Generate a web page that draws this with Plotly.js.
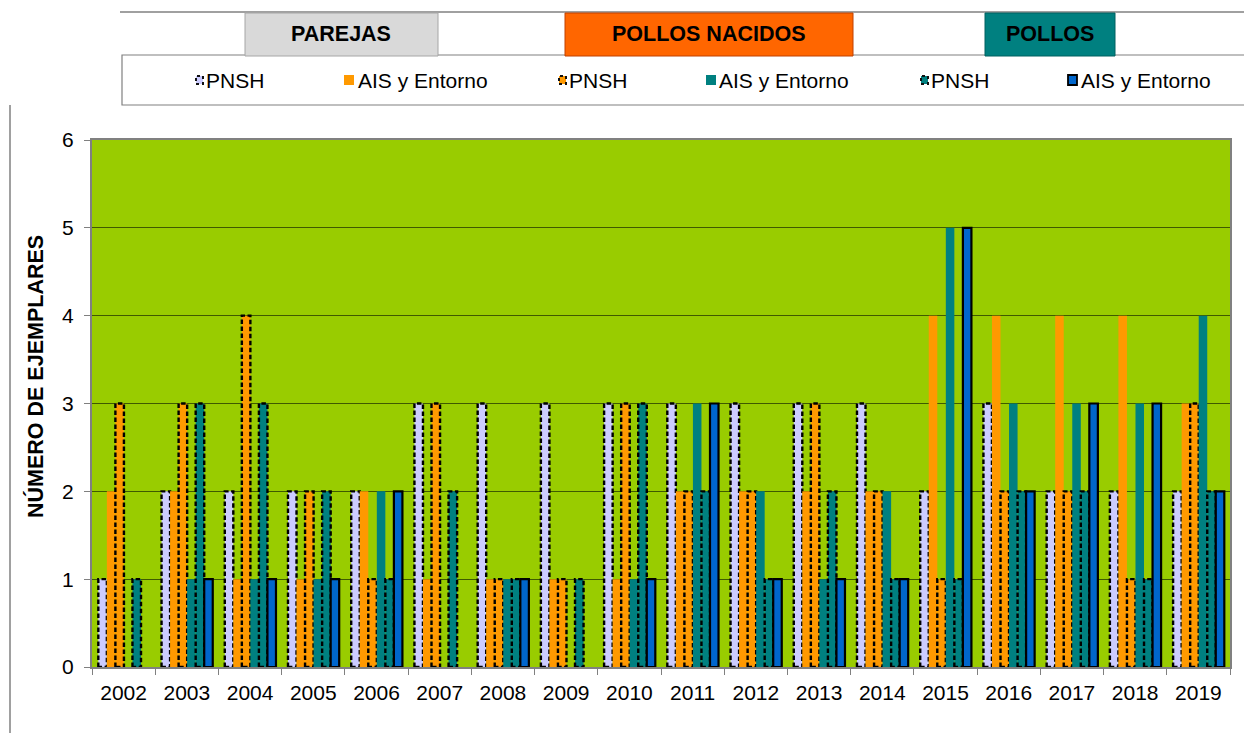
<!DOCTYPE html>
<html><head><meta charset="utf-8">
<script src="https://cdn.plot.ly/plotly-3.0.1.min.js"></script>
<style>html,body{margin:0;padding:0;background:#fff;overflow:hidden;} #chart{width:1244px;height:733px;}</style>
</head><body><div id="chart"></div>
<script>
const years = ['2002','2003','2004','2005','2006','2007','2008','2009','2010','2011','2012','2013','2014','2015','2016','2017','2018','2019'];
const parejasPNSH  = [1,2,2,2,2,3,3,3,3,3,3,3,3,2,3,2,2,2];
const parejasAIS   = [2,2,1,1,2,1,1,1,1,2,2,2,2,4,4,4,4,3];
const nacidosPNSH  = [3,3,4,2,1,3,1,1,3,2,2,3,2,1,2,2,1,3];
const nacidosAIS   = [0,1,1,1,2,0,1,0,1,3,2,1,2,5,3,3,3,4];
const pollosPNSH   = [1,3,3,2,1,2,1,1,3,2,1,2,1,1,2,2,1,2];
const pollosAIS    = [0,1,1,1,2,0,1,0,1,3,1,1,1,5,2,3,3,2];
const yTicks = [0,1,2,3,4,5,6];
const groupLabels = ['PAREJAS','POLLOS NACIDOS','POLLOS'];
const seriesNames = ['PNSH','AIS y Entorno','PNSH','AIS y Entorno','PNSH','AIS y Entorno'];
const yTitle = 'NÚMERO DE EJEMPLARES';

const C = {lav:'#ccccff', orange:'#ff9900', teal:'#008080', blue:'#0066cc'};
const FONT = 'Liberation Sans, Arial, sans-serif';
const FS = 21, FSB = 21.5;

// plot area in pixels
const L = 92, R = 1230, T = 140, B = 667;
const px = x => (x - L) / (R - L);
const py = y => (B - y) / (B - T);

const W = 0.135;
function tr(y, color, lineW, off, name) {
  return {type:'bar', x: years, y: y.map(v => v === 0 ? null : v), name: name, width: W, offset: off,
    marker:{color: color, line:{color:'#000', width: lineW}}, showlegend:false, hoverinfo:'none'};
}
const data = [
  tr(parejasPNSH, C.lav, 2.4, -0.40, seriesNames[0]),
  tr(parejasAIS, C.orange, 0, -0.265, seriesNames[1]),
  tr(nacidosPNSH, C.orange, 2.4, -0.13, seriesNames[2]),
  tr(nacidosAIS, C.teal, 0, 0.005, seriesNames[3]),
  tr(pollosPNSH, C.teal, 2.4, 0.14, seriesNames[4]),
  tr(pollosAIS, C.blue, 2.2, 0.275, seriesNames[5])
];

const shapes = [];
const annotations = [];
function rectPx(x0,y0,x1,y1,fill,line,lw,dash){
  shapes.push({type:'rect', xref:'paper', yref:'paper', x0:px(x0), x1:px(x1), y0:py(y1), y1:py(y0),
    fillcolor:fill, line:{color:line, width:lw, dash:dash||'solid'}, layer:'above'});
}
function linePx(x0,y0,x1,y1,color,lw){
  shapes.push({type:'line', xref:'paper', yref:'paper', x0:px(x0), x1:px(x1), y0:py(y0), y1:py(y1),
    line:{color:color, width:lw}, layer:'above'});
}
function textPx(x,y,text,size,anchor,bold){
  annotations.push({xref:'paper', yref:'paper', x:px(x), y:py(y), text: bold?('<b>'+text+'</b>'):text,
    showarrow:false, xanchor:anchor, yanchor:'middle', font:{family:FONT, size:size, color:'#000'}});
}

// outer frame pieces
linePx(120,12,1250,12,'#808080',1.5);
linePx(10,105,10,740,'#808080',1.5);
// legend box
rectPx(122,55,1260,105,'#ffffff','#808080',1.2);
// group headers
rectPx(245,13,438,56,'#d9d9d9','#a6a6a6',1);
rectPx(565,13,853,56,'#ff6600','#c04000',1);
rectPx(985,13,1115,56,'#008080','#006060',1);
textPx(341,34,groupLabels[0],FSB,'center',true);
textPx(709,34,groupLabels[1],FSB,'center',true);
textPx(1050,34,groupLabels[2],FSB,'center',true);

// legend entries
const legendItems = [
  {mx:196, color:C.lav, border:'dash', text:204},
  {mx:344, color:C.orange, border:null, text:356},
  {mx:559, color:C.orange, border:'dash', text:567},
  {mx:706, color:C.teal, border:null, text:717},
  {mx:921, color:C.teal, border:'dash', text:929},
  {mx:1068, color:C.blue, border:'solid', text:1079}
];
legendItems.forEach((it,i)=>{
  if (it.border === 'dash') rectPx(it.mx, 76, it.mx+7, 84, it.color, '#111', 2, 'dot');
  else if (it.border === 'solid') rectPx(it.mx, 75, it.mx+9, 85, it.color, '#000', 1.8);
  else rectPx(it.mx, 75, it.mx+10, 85, it.color, it.color, 0);
  textPx(it.text, 80, seriesNames[i], FS, 'left', false);
});

// y axis title
annotations.push({xref:'paper', yref:'paper', x:px(35), y:py(377), text:'<b>'+yTitle+'</b>', textangle:-90,
  showarrow:false, xanchor:'center', yanchor:'middle', font:{family:FONT, size:FSB, color:'#000'}});

const layout = {
  width:1244, height:733,
  margin:{l:L, r:1244-R, t:T, b:733-B, pad:0},
  paper_bgcolor:'#ffffff', plot_bgcolor:'#99cc00',
  barmode:'overlay',
  font:{family:FONT, size:FS, color:'#000'},
  xaxis:{type:'category', range:[-0.5,17.5], showgrid:false, zeroline:false,
    ticks:'outside', tickson:'boundaries', ticklen:6, tickcolor:'#808080', tickwidth:1,
    ticklabelstandoff:6,
    showline:true, linecolor:'#808080', linewidth:2, mirror:true,
    tickfont:{family:FONT, size:FS, color:'#000'}, fixedrange:true},
  yaxis:{range:[0,6], tickvals:yTicks, ticktext:yTicks.map(String), showgrid:true, gridcolor:'#3f5a00', gridwidth:1,
    zeroline:false, ticks:'outside', ticklen:6, tickcolor:'#808080', tickwidth:1,
    ticklabelstandoff:6,
    showline:true, linecolor:'#808080', linewidth:2, mirror:true,
    tickfont:{family:FONT, size:FS, color:'#000'}, fixedrange:true},
  shapes: shapes,
  annotations: annotations
};

Plotly.newPlot('chart', data, layout, {displayModeBar:false, staticPlot:true}).then(gd => {
  const traces = gd.querySelectorAll('.barlayer .trace');
  [0,2,4].forEach(i => {
    if (traces[i]) traces[i].querySelectorAll('path').forEach(p => { p.style.strokeDasharray = '4.5,2.5'; });
  });
});
</script>
</body></html>
